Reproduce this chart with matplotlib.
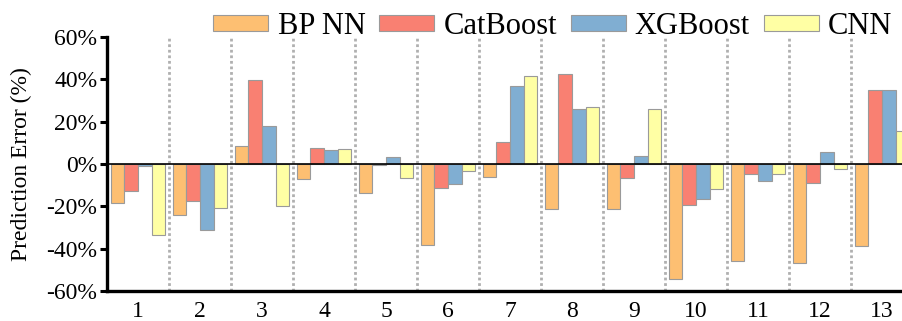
import numpy as np
import matplotlib
matplotlib.use("Agg")
import matplotlib.pyplot as plt
from matplotlib.ticker import FuncFormatter

# ----------------------------
# Data (prediction error, %)
# ----------------------------
cases = ["1", "2", "3", "4", "5", "6", "7", "8", "9", "10", "11", "12", "13"]
bp_nn = [-18.4, -24.1, 8.5, -7.1, -13.6, -38.3, -6.3, -21.3, -21.3, -54.1, -45.7, -47.0, -38.8]
catboost = [-12.6, -17.7, 39.7, 7.7, -0.3, -11.3, 10.5, 42.6, -6.6, -19.6, -4.6, -9.2, 35.0]
xgboost = [-0.8, -31.4, 17.8, 6.8, 3.5, -9.5, 37.0, 26.0, 3.9, -16.3, -8.2, 5.5, 35.0]
cnn = [-33.6, -20.8, -19.9, 7.1, -6.6, -3.2, 41.4, 27.1, 26.0, -11.8, -4.7, -2.4, 15.4]

series = [("BP NN", bp_nn, "#FDBF72"),
          ("CatBoost", catboost, "#F98072"),
          ("XGBoost", xgboost, "#80AED2"),
          ("CNN", cnn, "#FFFFA4")]

plt.rcParams["font.family"] = ["Liberation Serif", "DejaVu Serif"]

fig = plt.figure(figsize=(9.03, 3.21), dpi=100)
ax = fig.add_axes([107 / 903, 30 / 321, 806 / 903, 254 / 321])

x = np.arange(1, len(cases) + 1)
w = 0.22
for i, (name, vals, col) in enumerate(series):
    ax.bar(x + (i - 1.5) * w, vals, width=w, color=col, edgecolor="#9a9a9a",
           linewidth=0.8, label=name, zorder=3)

# group separators
for xs in x[:-1] + 0.5:
    ax.axvline(xs, color="#b0b0b0", linestyle=(0, (1, 1)), linewidth=2, zorder=1)
ax.axhline(0, color="black", linewidth=1.2, zorder=4)

ax.set_xlim(0.5, 13.5)
ax.set_ylim(-60, 60)
ax.set_yticks(np.arange(-60, 61, 20))
ax.yaxis.set_major_formatter(FuncFormatter(lambda v, p: f"{v:.0f}%"))
ax.set_xticks(x)
ax.set_xticklabels(cases)
ax.tick_params(axis="y", labelsize=17, width=2.2, length=5, direction="out", pad=2)
ax.tick_params(axis="x", labelsize=17, length=0, pad=7)
ax.set_ylabel("Prediction Error (%)", fontsize=17, labelpad=10)

for s in ["top", "right"]:
    ax.spines[s].set_visible(False)
for s in ["left", "bottom"]:
    ax.spines[s].set_linewidth(2.4)

fig.legend(loc="upper right", bbox_to_anchor=(1.005, 1.01), ncol=4, frameon=False,
           fontsize=22, handlelength=1.8, handleheight=0.45, handletextpad=0.3,
           columnspacing=0.45, borderaxespad=0.1)

fig.savefig("out.png", dpi=100)
